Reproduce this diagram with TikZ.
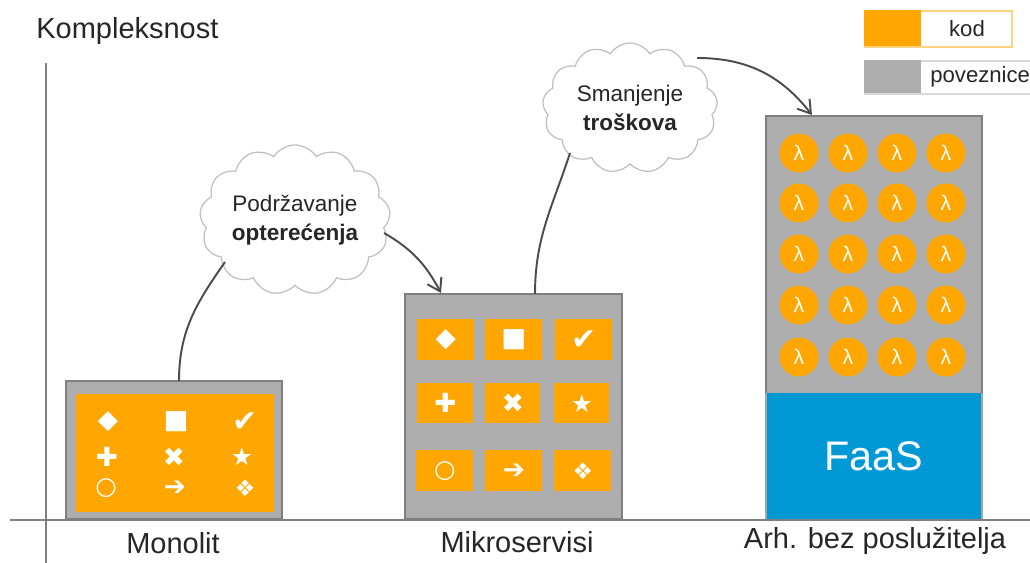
\documentclass[tikz,border=0pt]{standalone}
\usepackage{fontspec}
\setmainfont{Liberation Sans}
\newfontfamily\symfont{DejaVu Sans}
\usetikzlibrary{shapes.symbols,arrows.meta}
\definecolor{kodcol}{HTML}{FFA600}
\definecolor{vezacol}{HTML}{ADADAD}
\definecolor{rubcol}{HTML}{7F7F7F}
\definecolor{faascol}{HTML}{0099D6}
\definecolor{txtcol}{HTML}{262626}
\tikzset{
    stupac/.style={draw=rubcol,line width=1.2pt,fill=vezacol,inner sep=0,outer sep=0,anchor=north west},
    plocica/.style={fill=kodcol,inner sep=0,anchor=north west},
    znak/.style={text=white,inner sep=0,font=\symfont\fontsize{#1}{#1}\selectfont},
    znak/.default=12pt,
    lambdica/.style={circle,fill=kodcol,text=white,inner sep=0,minimum size=0.78cm,font=\fontsize{12pt}{12pt}\selectfont},
    oblak/.style={cloud,cloud puffs=13,cloud puff arc=115,draw=black!25,line width=0.7pt,fill=white,inner sep=0,aspect=1.37,align=center,text=txtcol,font=\fontsize{12.8pt}{16.5pt}\selectfont},
    natpis/.style={text=txtcol,inner sep=0,font=\fontsize{16.5pt}{16.5pt}\selectfont},
    legenda/.style={text=txtcol,inner sep=0,font=\fontsize{12.6pt}{12.6pt}\selectfont},
    veza/.style={draw=black!70,line width=1.1pt},
    strelica/.style={veza,-{Straight Barb[length=7pt,width=9pt,line width=1.1pt]}}
}
\begin{document}
\begin{tikzpicture}[x=0.02cm,y=-0.02cm]
    \useasboundingbox (0,0) rectangle (1030,563);
    % osi
    \coordinate (osY1) at (46,63);
    \coordinate (osY2) at (46,563);
    \coordinate (osX1) at (10,520);
    \coordinate (osX2) at (1030,520);
    \draw [rubcol,line width=1.1pt] (osY1) -- (osY2);
    \node [natpis,anchor=west] (kompl) at (36,31) {Kompleksnost};
    % monolit
    \node [stupac,minimum width=4.32cm,minimum height=2.76cm] (mono) at (66,381) {};
    \node [plocica,minimum width=3.96cm,minimum height=2.36cm] (monoKod) at (76,394) {};
    \node [znak=15pt] (m1) at (108,422) {◆};
    \node [znak=15pt] (m2) at (176,422) {■};
    \node [znak=17pt] (m3) at (245,422) {✔};
    \node [znak=15pt] (m4) at (107,457) {✚};
    \node [znak=15pt] (m5) at (174,457) {✖};
    \node [znak=14pt] (m6) at (242,457) {★};
    \node [znak=14pt] (m7) at (106,488) {\bfseries ○};
    \node [znak=15pt] (m8) at (175,488) {➔};
    \node [znak=13pt] (m9) at (245,488) {❖};
    % mikroservisi
    \node [stupac,minimum width=4.34cm,minimum height=4.5cm] (mikro) at (405,294) {};
    \node [plocica,minimum width=1.14cm,minimum height=0.82cm] (k1) at (417,319) {};
    \node [plocica,minimum width=1.14cm,minimum height=0.82cm] (k2) at (485,319) {};
    \node [plocica,minimum width=1.14cm,minimum height=0.82cm] (k3) at (555,319) {};
    \node [plocica,minimum width=1.12cm,minimum height=0.8cm] (k4) at (417,383) {};
    \node [plocica,minimum width=1.10cm,minimum height=0.8cm] (k5) at (485,383) {};
    \node [plocica,minimum width=1.10cm,minimum height=0.8cm] (k6) at (554,383) {};
    \node [plocica,minimum width=1.14cm,minimum height=0.82cm] (k7) at (416,450) {};
    \node [plocica,minimum width=1.14cm,minimum height=0.82cm] (k8) at (485,450) {};
    \node [plocica,minimum width=1.14cm,minimum height=0.82cm] (k9) at (554,450) {};
    \node [znak=15pt] at (k1.center) {◆};
    \node [znak=15pt] at (k2.center) {■};
    \node [znak=17pt] at (k3.center) {✔};
    \node [znak=15pt] at (k4.center) {✚};
    \node [znak=15pt] at (k5.center) {✖};
    \node [znak=14pt] at (k6.center) {★};
    \node [znak=14pt] at (k7.center) {\bfseries ○};
    \node [znak=15pt] at (k8.center) {➔};
    \node [znak=13pt] at (k9.center) {❖};
    % bez posluzitelja
    \node [stupac,minimum width=4.32cm,minimum height=8.06cm] (arh) at (766,116) {};
    \foreach \y [count=\r] in {153,203,254,305,357}
        \foreach \x [count=\s] in {799,848,897,946}
            \node [lambdica] (lam\r\s) at (\x,\y) {λ};
    \node [stupac,draw=none,fill=faascol,minimum width=4.32cm,minimum height=2.52cm,text=white,font=\fontsize{23.5pt}{23.5pt}\selectfont] (faas) at (766,393) {FaaS};
    \draw [rubcol!70,line width=1.1pt] (faas.north west) -- (faas.south west);
    \draw [rubcol!70,line width=1.1pt] (faas.north east) -- (faas.south east);
    \draw [rubcol,line width=1.1pt] (osX1) -- (osX2);
    % oblaci
    \node [oblak,minimum width=3.66cm,minimum height=2.68cm] (oblak1) at (295,220) {Podržavanje\\\textbf{opterećenja}};
    \node [oblak,minimum width=3.5cm,minimum height=2.6cm] (oblak2) at (630,108) {Smanjenje\\\textbf{troškova}};
    \coordinate (v1) at (179,381);
    \coordinate (v2) at (225,262);
    \coordinate (v3) at (384,233);
    \coordinate (v4) at (441,293);
    \coordinate (v5) at (535,294);
    \coordinate (v6) at (570,153);
    \coordinate (v7) at (697,58);
    \coordinate (v8) at (812,115);
    \draw [veza] (v1) to [out=90,in=-125] (v2);
    \draw [strelica] (v3) to [out=-30,in=118] (v4);
    \draw [veza] (v5) to [out=90,in=-108] (v6);
    \draw [strelica] (v7) to [out=0,in=128] (v8);
    % nazivi
    \node [natpis] (nazMono) at (173,543) {Monolit};
    \node [natpis] (nazMikro) at (517,542) {Mikroservisi};
    \node [natpis] (nazArh) at (875,541) {Arh. bez poslužitelja};
    % legenda
    \node [draw=kodcol!50,line width=1pt,fill=white,inner sep=0,anchor=north west,minimum width=2.94cm,minimum height=0.72cm] (legKod) at (864,10) {};
    \node [fill=kodcol,inner sep=0,anchor=north west,minimum width=1.14cm,minimum height=0.72cm] (legKodB) at (864,10) {};
    \node [legenda] (tKod) at (967,29) {kod};
    \node [draw=black!15,line width=1pt,fill=white,inner sep=0,anchor=north west,minimum width=3.32cm,minimum height=0.66cm] (legVez) at (864,60) {};
    \node [fill=vezacol,inner sep=0,anchor=north west,minimum width=1.14cm,minimum height=0.66cm] (legVezB) at (864,60) {};
    \node [legenda,anchor=west] (tVez) at (930,77) {poveznice};
\end{tikzpicture}
\end{document}
